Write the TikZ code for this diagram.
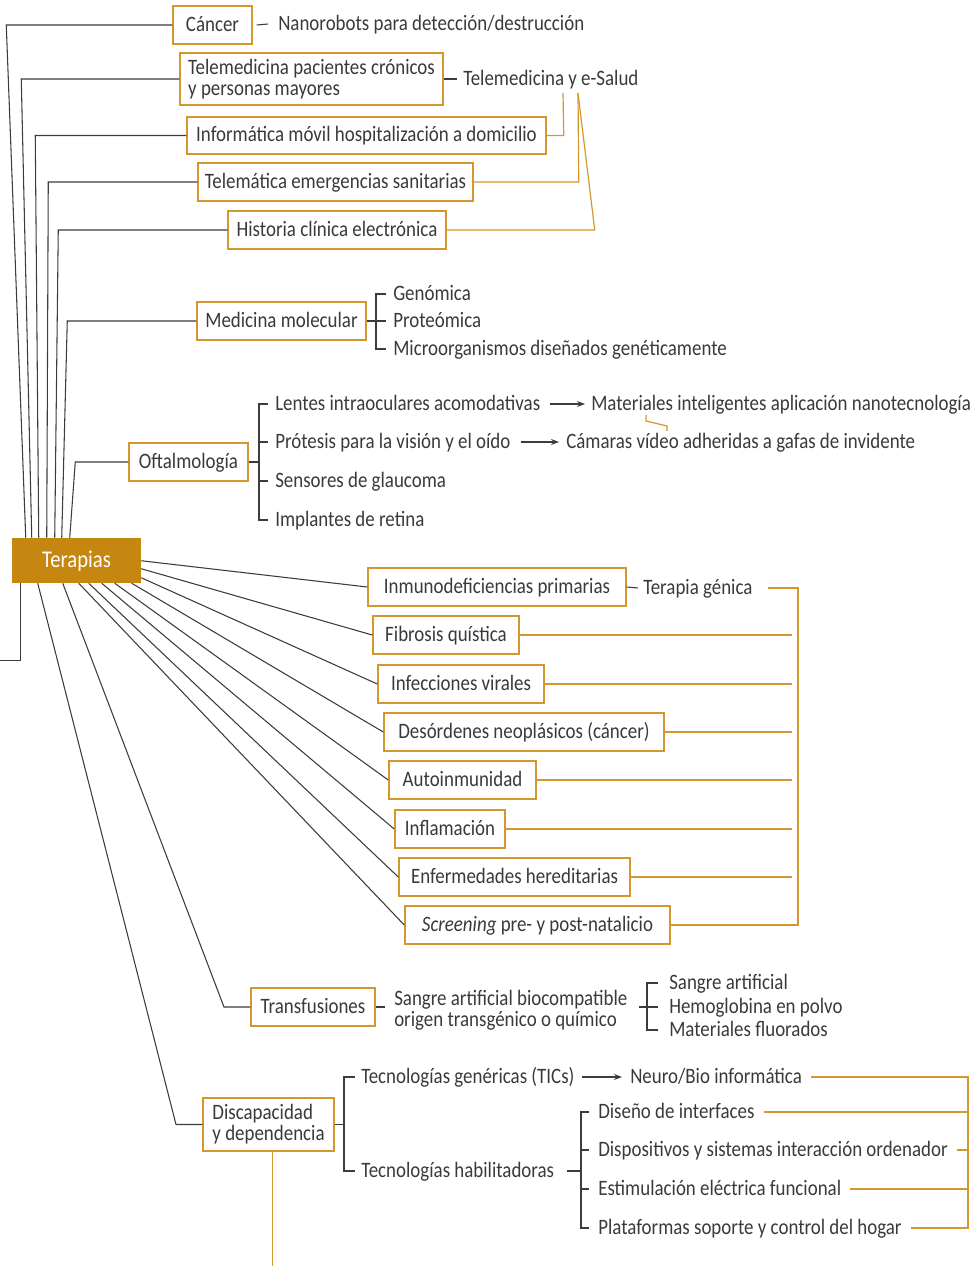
\documentclass[tikz,border=0pt]{standalone}
\usepackage{fontspec}
\setmainfont{Carlito}[FakeStretch=0.86]
\usetikzlibrary{calc,arrows.meta}

\definecolor{txt}{HTML}{3A3A3A}
\definecolor{lineg}{HTML}{3C3C3C}
\definecolor{orng}{HTML}{D4972E}
\definecolor{terfill}{HTML}{C5870F}

\newcommand\dfont{\fontsize{16.5pt}{15.75pt}\selectfont}

\tikzset{
  dk/.style={draw=lineg, line width=0.8pt},
  og/.style={draw=orng, line width=0.9pt},
  obox/.style={draw=orng, line width=1.1pt, fill=white, text=txt, inner sep=0pt,
    minimum height=28.5pt, text height=9.75pt, text depth=0pt},
  obox2/.style={draw=orng, line width=1.1pt, fill=white, text=txt, inner sep=0pt,
    minimum height=39pt, align=left},
  lbl/.style={text=txt, anchor=west, inner sep=0pt, text height=9.75pt, text depth=0pt},
  lbl2/.style={text=txt, anchor=west, inner sep=0pt, align=left},
  arr/.style={dk, -{Stealth[length=6pt,width=4.5pt]}},
}

\begin{document}
\begin{tikzpicture}[x=0.75pt, y=-0.75pt, font=\dfont]
\useasboundingbox (0,0) rectangle (979,1266);

% central node
\node[fill=terfill, text=white, inner sep=0pt, minimum width=96.75pt, minimum height=33.75pt,
  text height=10.5pt, text depth=0pt,
  font=\fontsize{18pt}{20pt}\selectfont] (ter) at (76.5,560.5) {Terapias};

% upper branches
\node[obox, minimum width=59.25pt] (canc) at (212.5,25) {Cáncer};
\node[obox2, minimum width=197.25pt] (tele) at (311.5,79) {Telemedicina pacientes crónicos\\y personas mayores};
\node[obox, minimum width=269.25pt, minimum height=27.75pt] (info) at (366.5,135.5) {Informática móvil hospitalización a domicilio};
\node[obox, minimum width=206.25pt] (telem) at (335.5,182) {Telemática emergencias sanitarias};
\node[obox, minimum width=163.5pt] (hist) at (337,230) {Historia clínica electrónica};
\node[obox, minimum width=126.75pt] (medmol) at (281.5,321) {Medicina molecular};
\node[obox, minimum width=89.25pt] (oft) at (188.5,462) {Oftalmología};

\node[lbl] (nano) at (278,24) {Nanorobots para detección/destrucción};
\node[lbl] (tsal) at (463,79) {Telemedicina y e-Salud};

\node[lbl] (gen) at (393,294) {Genómica};
\node[lbl] (prot) at (393,321) {Proteómica};
\node[lbl] (micro) at (393,349) {Microorganismos diseñados genéticamente};

\node[lbl] (lent) at (275,404) {Lentes intraoculares acomodativas};
\node[lbl] (prote) at (275,442) {Prótesis para la visión y el oído};
\node[lbl] (sens) at (275,481) {Sensores de glaucoma};
\node[lbl] (impl) at (275,520) {Implantes de retina};
\node[lbl] (mat) at (591,404) {Materiales inteligentes aplicación nanotecnología};
\node[lbl] (cam) at (566,442) {Cámaras vídeo adheridas a gafas de invidente};

% therapy fan
\node[obox, minimum width=193.5pt] (inmu) at (497,587) {Inmunodeficiencias primarias};
\node[obox, minimum width=109.5pt] (fib) at (446,635) {Fibrosis quística};
\node[obox, minimum width=124.5pt] (infe) at (461,684) {Infecciones virales};
\node[obox, minimum width=210pt] (deso) at (524,732) {Desórdenes neoplásicos (cáncer)};
\node[obox, minimum width=110.25pt] (auto) at (462.5,780) {Autoinmunidad};
\node[obox, minimum width=82.5pt] (infl) at (450,829) {Inflamación};
\node[obox, minimum width=173.25pt] (enfe) at (514.5,877) {Enfermedades hereditarias};
\node[obox, minimum width=198.75pt] (scre) at (537.5,925) {\textit{Screening} pre- y post-natalicio};
\node[lbl] (tgen) at (643,588) {Terapia génica};

% transfusions
\node[obox, minimum width=93pt] (tran) at (313,1007) {Transfusiones};
\node[lbl2] (sbio) at (394,1010) {Sangre artificial biocompatible\\origen transgénico o químico};
\node[lbl] (sart) at (669,983) {Sangre artificial};
\node[lbl] (hemo) at (669,1007) {Hemoglobina en polvo};
\node[lbl] (mflu) at (669,1030) {Materiales fluorados};

% disability
\node[obox2, minimum width=98.25pt, minimum height=39.75pt] (disc) at (268.5,1124.5) {Discapacidad\\y dependencia};
\node[lbl] (tgenr) at (361,1077) {Tecnologías genéricas (TICs)};
\node[lbl] (thab) at (361,1171) {Tecnologías habilitadoras};
\node[lbl] (neuro) at (630,1077) {Neuro/Bio informática};
\node[lbl] (dise) at (598,1112) {Diseño de interfaces};
\node[lbl] (disp) at (598,1150) {Dispositivos y sistemas interacción ordenador};
\node[lbl] (esti) at (598,1189) {Estimulación eléctrica funcional};
\node[lbl] (plat) at (598,1228) {Plataformas soporte y control del hogar};

% bracket columns
\coordinate (mb) at (376,0);
\coordinate (ob) at (259,0);
\coordinate (sb) at (647,0);
\coordinate (db) at (344,0);
\coordinate (hb) at (581,0);
\coordinate (gx) at (798,0);
\coordinate (gx2) at (792,0);
\coordinate (rx) at (968,0);

% trunk lines into the top of the central node
\draw[dk] (canc.west) -- ++(-166,0) -- ($(ter.north west)+(14,0)$);
\draw[dk] (tele.west) -- ++(-158,0) -- ($(ter.north west)+(20,0)$);
\draw[dk] (info.west) -- ++(-151,0) -- ($(ter.north west)+(27,0)$);
\draw[dk] (telem.west) -- ++(-149,0) -- ($(ter.north west)+(35,0)$);
\draw[dk] (hist.west) -- ++(-169,0) -- ($(ter.north west)+(43,0)$);
\draw[dk] (medmol.west) -- ++(-129,0) -- ($(ter.north west)+(50,0)$);
\draw[dk] (oft.west) -- ++(-53,0) -- ($(ter.north west)+(58,0)$);

% fan lines out of the central node
\draw[dk] ($(ter.north east)+(0,23)$) -- (inmu.west);
\draw[dk] ($(ter.north east)+(0,31)$) -- (fib.west);
\draw[dk] ($(ter.north east)+(0,40)$) -- (infe.west);
\draw[dk] ($(ter.south west)+(120,0)$) -- (deso.west);
\draw[dk] ($(ter.south west)+(103,0)$) -- (auto.west);
\draw[dk] ($(ter.south west)+(90,0)$) -- (infl.west);
\draw[dk] ($(ter.south west)+(77,0)$) -- (enfe.west);
\draw[dk] ($(ter.south west)+(67,0)$) -- (scre.west);
\draw[dk] ($(ter.south west)+(51,0)$) -- (224,1007) -- (tran.west);
\draw[dk] ($(ter.south west)+(26,0)$) -- (176,1124.5) -- (disc.west);
\draw[dk] ($(ter.south west)+(9,0)$) -- ++(0,77) -- ++(-21,0);

% short links
\draw[dk] ($(canc.east)+(4,0)$) -- ($(nano.west)+(-10,0)$);
\draw[dk] (tele.east) -- ($(tsal.west)+(-6,0)$);
\draw[dk] (medmol.east) -- (medmol.east -| mb);
\draw[dk] ($(gen.west)+(-7,0)$) -- (gen.west -| mb) -- (micro.west -| mb) -- ($(micro.west)+(-7,0)$);
\draw[dk] (prot.west -| mb) -- ($(prot.west)+(-7,0)$);
\draw[dk] (oft.east) -- (oft.east -| ob);
\draw[dk] ($(lent.west)+(-7,0)$) -- (lent.west -| ob) -- (impl.west -| ob) -- ($(impl.west)+(-7,0)$);
\draw[dk] (prote.west -| ob) -- ($(prote.west)+(-7,0)$);
\draw[dk] (sens.west -| ob) -- ($(sens.west)+(-7,0)$);
\draw[arr] ($(lent.east)+(10,0)$) -- ($(mat.west)+(-6,0)$);
\draw[arr] ($(prote.east)+(10,0)$) -- ($(cam.west)+(-7,0)$);
\draw[dk] (inmu.east) -- ($(tgen.west)+(-5,0)$);

\draw[dk] (tran.east) -- ++(9,0);
\draw[dk] ($(sbio.east)+(11,-3)$) -- ($(hemo.west -| sb)$);
\draw[dk] ($(sart.west)+(-11,0)$) -- (sart.west -| sb) -- (mflu.west -| sb) -- ($(mflu.west)+(-11,0)$);
\draw[dk] (hemo.west -| sb) -- ($(hemo.west)+(-11,0)$);

\draw[dk] (disc.east) -- (disc.east -| db);
\draw[dk] ($(tgenr.west)+(-6,0)$) -- (tgenr.west -| db) -- (thab.west -| db) -- ($(thab.west)+(-6,0)$);
\draw[arr] ($(tgenr.east)+(7,0)$) -- ($(neuro.west)+(-8,0)$);
\draw[dk] ($(thab.east)+(13,0)$) -- (thab.east -| hb);
\draw[dk] ($(dise.west)+(-9,0)$) -- (dise.west -| hb) -- (plat.west -| hb) -- ($(plat.west)+(-9,0)$);
\draw[dk] (disp.west -| hb) -- ($(disp.west)+(-9,0)$);
\draw[dk] (esti.west -| hb) -- ($(esti.west)+(-9,0)$);

% e-Health links
\draw[og] (info.east) -- ++(17,0) -- (563,93);
\draw[og] (telem.east) -- ++(105,0) -- (578,93);
\draw[og] (hist.east) -- ++(148,0) -- (578,93);
\draw[og] (646,415) -- (646,421) -- (667,426) -- (667,431);

% gene therapy bracket
\draw[og] ($(tgen.east)+(15,0)$) -- (tgen.east -| gx) -- (scre.east -| gx) -- (scre.east);
\draw[og] (fib.east) -- (fib.east -| gx2);
\draw[og] (infe.east) -- (infe.east -| gx2);
\draw[og] (deso.east) -- (deso.east -| gx2);
\draw[og] (auto.east) -- (auto.east -| gx2);
\draw[og] (infl.east) -- (infl.east -| gx2);
\draw[og] (enfe.east) -- (enfe.east -| gx2);

% technology bracket
\draw[og] ($(neuro.east)+(9,0)$) -- (neuro.east -| rx) -- (plat.east -| rx) -- ($(plat.east)+(9,0)$);
\draw[og] ($(dise.east)+(9,0)$) -- (dise.east -| rx);
\draw[og] ($(disp.east)+(9,0)$) -- (disp.east -| rx);
\draw[og] ($(esti.east)+(9,0)$) -- (esti.east -| rx);
\draw[og] ($(disc.south)+(4,0)$) -- ++(0,120);
\end{tikzpicture}
\end{document}
